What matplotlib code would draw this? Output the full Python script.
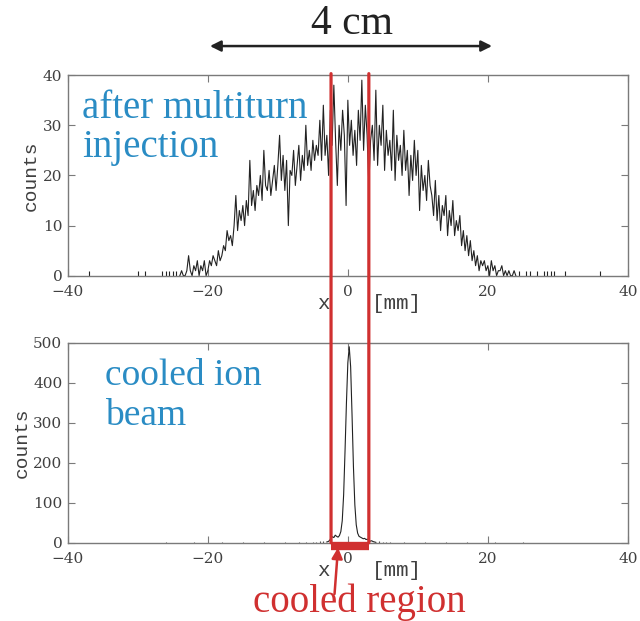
import numpy as np
import matplotlib
matplotlib.use("Agg")
import matplotlib.pyplot as plt
from matplotlib.patches import ConnectionPatch

# ---------------- data ----------------
# top panel: counts after multiturn injection, bins of 0.25 mm from -24 to +24 mm
top_start, top_step = -24.0, 0.25
top_counts = [
    0, 1, 0, 0, 1, 4, 1, 0,
    2, 1, 3, 0, 2, 1, 3, 0,
    1, 3, 2, 4, 3, 2, 5, 3,
    4, 6, 5, 9, 7, 8, 6, 10,
    16, 9, 13, 11, 14, 10, 15, 12,
    23, 14, 17, 13, 18, 16, 20, 15,
    25, 18, 17, 21, 16, 19, 22, 17,
    22, 28, 19, 24, 17, 23, 10, 21,
    20, 25, 18, 22, 26, 19, 24, 21,
    30, 22, 25, 21, 27, 23, 26, 24,
    31, 23, 34, 24, 28, 20, 33, 26,
    38, 27, 18, 30, 25, 33, 28, 14,
    35, 26, 31, 24, 29, 22, 33, 27,
    39, 25, 34, 28, 18, 27, 30, 23,
    37, 22, 30, 26, 34, 21, 29, 24,
    27, 21, 33, 19, 28, 23, 26, 20,
    29, 21, 25, 16, 24, 19, 27, 20,
    25, 13, 22, 17, 20, 15, 23, 18,
    16, 12, 19, 11, 16, 9, 14, 12,
    16, 8, 13, 10, 15, 8, 11, 9,
    12, 6, 9, 5, 8, 4, 7, 3,
    5, 2, 4, 1, 3, 2, 3, 1,
    2, 0, 3, 1, 2, 0, 1, 1,
    2, 0, 1, 0, 1, 0, 0, 1,
    0,
]
# isolated single counts in the tails
top_tail_x = [-37, -30, -29, -26.5, -26, -25.5, -25, -24.5,
              24.5, 25.5, 26, 27, 28, 28.5, 29, 29.5, 31, 36]
top_tail_counts = [1, 1, 1, 1, 1, 1, 1, 1,
                   1, 1, 1, 1, 1, 1, 1, 1, 1, 1]

# bottom panel: cooled ion beam, bins of 0.2 mm from -3 to +4 mm
bot_start, bot_step = -3.0, 0.2
bot_counts = [2, 3, 6, 12, 15, 13, 19, 16, 14, 18,
              28, 55, 120, 230, 350, 450, 490, 440, 320, 190,
              95, 45, 24, 16, 14, 12, 10, 11, 8, 9,
              6, 4, 5, 3, 2, 1]
bot_tail_x = [-26, -22, -18, -15, -12, -9, -7, -6, -5, -4.5, -4, -3.5,
              4.5, 5, 5.5, 6, 8, 11, 14, 17, 21, 25]
bot_tail_counts = [2, 2, 2, 2, 2, 2, 2, 3, 3, 3, 4, 4,
                   4, 3, 3, 2, 2, 2, 2, 2, 2, 2]

cooled_region = (-2.4, 3.0)   # mm
x_ticks = [-40, -20, 0, 20, 40]
top_yticks = [0, 10, 20, 30, 40]
bot_yticks = [0, 100, 200, 300, 400, 500]

# ---------------- style ----------------
RED = "#d03030"
BLUE = "#2a8cc4"
AX_COL = "#7a7a7a"
TXT_COL = "#404040"
serif = ["Liberation Serif", "DejaVu Serif"]
tick_font = ["DejaVu Serif"]
mono = ["Liberation Mono", "DejaVu Sans Mono"]

fig = plt.figure(figsize=(6.40, 6.21), dpi=100)
ax1 = fig.add_axes([0.106, 0.556, 0.875, 0.323])
ax2 = fig.add_axes([0.106, 0.126, 0.875, 0.322])


def style(ax, yticks, ylim):
    ax.set_xlim(-40, 40)
    ax.set_ylim(*ylim)
    ax.set_xticks(x_ticks)
    ax.set_xticklabels([f"{t}".replace("-", "\u2212") for t in x_ticks],
                       family=tick_font, fontsize=11, color=TXT_COL)
    ax.set_yticks(yticks)
    ax.set_yticklabels([str(t) for t in yticks], family=tick_font,
                       fontsize=11, color=TXT_COL)
    ax.tick_params(direction="in", top=True, right=True, length=5,
                   width=0.8, color=AX_COL)
    ax.tick_params(axis="x", pad=7)
    ax.tick_params(axis="y", pad=4)
    for s in ax.spines.values():
        s.set_color(AX_COL)
        s.set_linewidth(1.0)
    ax.set_ylabel("counts", family=mono, fontsize=14, color=TXT_COL,
                  labelpad=2)
    # x-axis label in two pieces, the "0" tick label sits between them
    ax.text((323 - 68) / 560, -0.165, "x", transform=ax.transAxes,
            ha="center", va="baseline", family=mono, fontsize=15,
            color=TXT_COL)
    ax.text((397 - 68) / 560, -0.165, "[mm]", transform=ax.transAxes,
            ha="center", va="baseline", family=mono, fontsize=15,
            color=TXT_COL)


# top panel
tx = top_start + top_step * np.arange(len(top_counts))
ax1.plot(tx, top_counts, color="#222222", lw=0.8)
ax1.vlines(top_tail_x, 0, top_tail_counts, color="#222222", lw=0.8)
style(ax1, top_yticks, (0, 40))
ax1.text(0.025, 0.925, "after multiturn\ninjection", transform=ax1.transAxes,
         ha="left", va="top", family=serif, fontsize=28, color=BLUE,
         linespacing=1.05)

# bottom panel
bx = bot_start + bot_step * np.arange(len(bot_counts))
ax2.plot(bx, bot_counts, color="#222222", lw=0.8)
ax2.vlines(bot_tail_x, 0, bot_tail_counts, color="#555555", lw=0.8)
style(ax2, bot_yticks, (0, 500))
ax2.text(0.066, 0.92, "cooled ion\nbeam", transform=ax2.transAxes,
         ha="left", va="top", family=serif, fontsize=27, color=BLUE,
         linespacing=1.2)

# red vertical lines spanning both panels
for xr in cooled_region:
    con = ConnectionPatch(xyA=(xr, 40.3), coordsA="data", axesA=ax1,
                          xyB=(xr, 0), coordsB="data", axesB=ax2,
                          color=RED, lw=2.3, zorder=5)
    con.set_annotation_clip(False)
    fig.add_artist(con)

# red bar under bottom axis
ax2.plot(list(cooled_region), [-9, -9], color=RED, lw=6,
         solid_capstyle="butt", clip_on=False, zorder=5)

# arrow and label "cooled region"
ax2.annotate("", xy=(-1.4, -12), xytext=(-1.9, -128),
             arrowprops=dict(arrowstyle="-|>", color=RED, lw=1.8,
                             mutation_scale=16, shrinkA=0, shrinkB=0),
             annotation_clip=False)
ax2.text(1.7, -150, "cooled region", ha="center", va="center",
         family=serif, fontsize=28, color=RED, clip_on=False)

# 4 cm arrow on top
ax1.annotate("", xy=(-19.7, 45.8), xytext=(20.6, 45.8),
             arrowprops=dict(arrowstyle="<|-|>", color="#222222", lw=1.8,
                             mutation_scale=16, shrinkA=0, shrinkB=0),
             annotation_clip=False)
ax1.text(0.6, 50.2, "4 cm", ha="center", va="center", family=serif,
         fontsize=30, color="#222222", clip_on=False)

fig.savefig("out.png", dpi=100)
